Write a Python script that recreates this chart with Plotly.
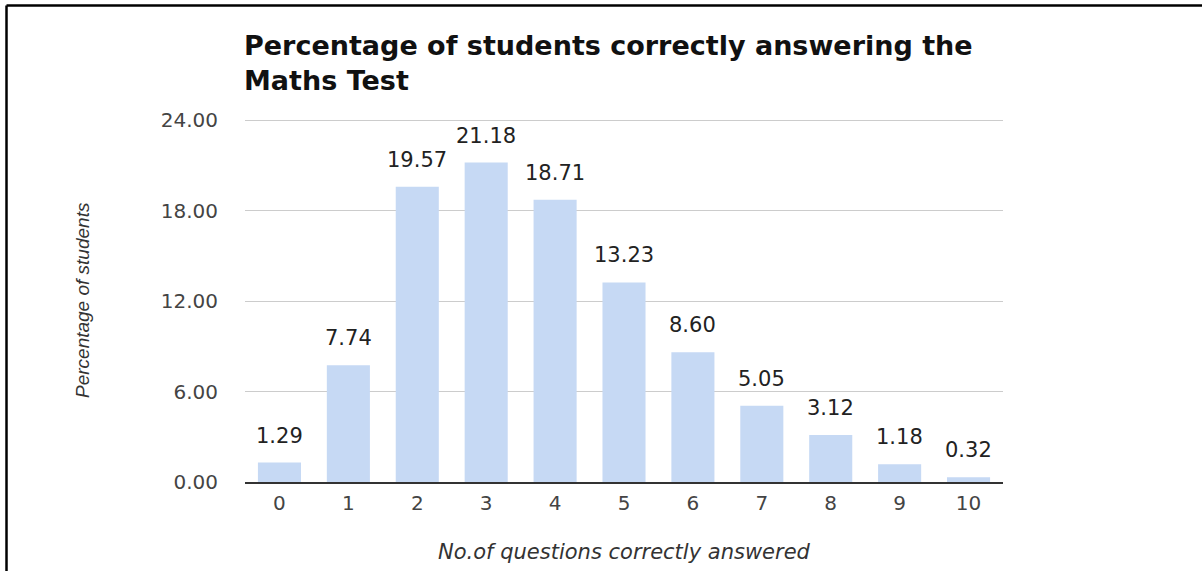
import plotly.graph_objects as go

categories = ["0", "1", "2", "3", "4", "5", "6", "7", "8", "9", "10"]
percentages = [1.29, 7.74, 19.57, 21.18, 18.71, 13.23, 8.60, 5.05, 3.12, 1.18, 0.32]
value_labels = ["1.29", "7.74", "19.57", "21.18", "18.71", "13.23", "8.60", "5.05", "3.12", "1.18", "0.32"]
y_ticks = [0, 6, 12, 18, 24]
y_tick_labels = ["0.00", "6.00", "12.00", "18.00", "24.00"]
title_text = "Percentage of students correctly answering the<br>Maths Test"

W, H = 1202, 571
L, R, T, B = 245, 1003, 118, 482
Y_TOP = 24 + (120 - T) / ((B - 120) / 24.0)

fig = go.Figure()
fig.add_trace(go.Bar(
    x=categories, y=percentages,
    marker=dict(color="#c6d9f4", line=dict(width=0)),
    hoverinfo="skip",
))

for c, v, lab in zip(categories, percentages, value_labels):
    fig.add_annotation(x=c, y=v, text=lab, showarrow=False,
                       xanchor="center", yanchor="middle", yshift=27,
                       font=dict(family="DejaVu Sans", size=21, color="#222222"))

def px_x(px):
    return (px - L) / (R - L)

def px_y(py):
    return (B - py) / (B - T)

# title
fig.add_annotation(xref="paper", yref="paper", x=px_x(242), y=px_y(63),
                   text=title_text, showarrow=False, align="left",
                   xanchor="left", yanchor="middle",
                   font=dict(family="DejaVu Sans", size=27, color="#111111", weight="bold"))

# axis titles
fig.add_annotation(xref="paper", yref="paper", x=px_x(82), y=px_y(300),
                   text="Percentage of students", textangle=-90, showarrow=False,
                   xanchor="center", yanchor="middle",
                   font=dict(family="Liberation Sans", size=19, color="#333333", style="italic"))
fig.add_annotation(xref="paper", yref="paper", x=px_x(624), y=px_y(552),
                   text="No.of questions correctly answered", showarrow=False,
                   xanchor="center", yanchor="middle",
                   font=dict(family="DejaVu Sans", size=21, color="#333333", style="italic"))

# screenshot frame (left and top border)
fig.add_shape(type="line", xref="paper", yref="paper",
              x0=px_x(6.5), x1=px_x(1202), y0=px_y(5.5), y1=px_y(5.5),
              line=dict(color="black", width=2.5))
fig.add_shape(type="line", xref="paper", yref="paper",
              x0=px_x(6.5), x1=px_x(6.5), y0=px_y(5.5), y1=px_y(571),
              line=dict(color="black", width=2.5))

fig.update_layout(
    width=W, height=H,
    margin=dict(l=L, r=W - R, t=T, b=H - B, pad=0),
    paper_bgcolor="white", plot_bgcolor="white",
    bargap=0.375,
    showlegend=False,
    xaxis=dict(
        type="category", showgrid=False, showline=True, linecolor="#333333", linewidth=1.5,
        ticks="", ticklabelstandoff=2, zeroline=False,
        tickfont=dict(family="DejaVu Sans", size=20, color="#444444"),
    ),
    yaxis=dict(
        range=[0, Y_TOP], tickvals=y_ticks, ticktext=y_tick_labels,
        showgrid=True, gridcolor="#cccccc", gridwidth=1, zeroline=False,
        showline=False, ticks="", ticklabelstandoff=26,
        tickfont=dict(family="DejaVu Sans", size=20, color="#444444"),
    ),
)

fig.write_html("out.html", config={"displayModeBar": False},
               post_script="document.body.style.margin='0';document.body.style.padding='0';")
